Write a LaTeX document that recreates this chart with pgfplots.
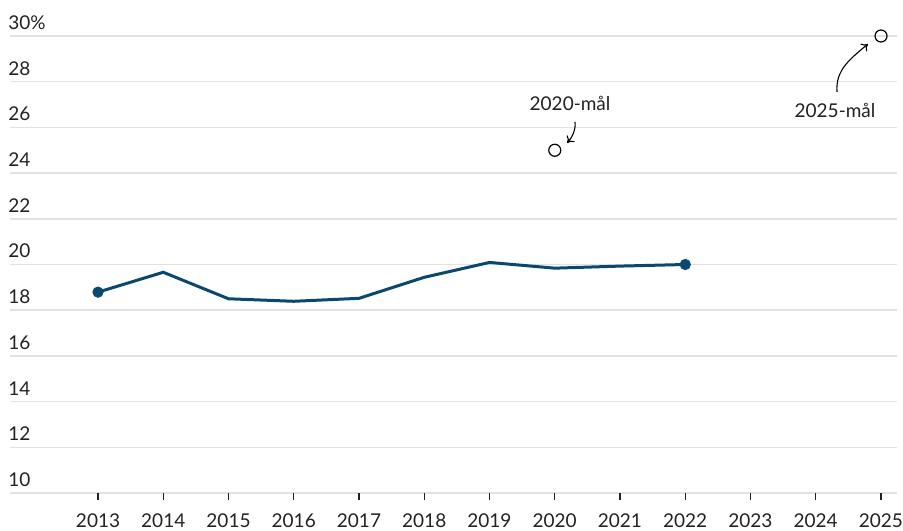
\documentclass[border=0pt]{standalone}
\usepackage{fontspec}
\setmainfont{Lato}
\usepackage{pgfplots}
\pgfplotsset{compat=1.18}
\usetikzlibrary{arrows.meta}
\definecolor{lineblue}{HTML}{0B4870}
\definecolor{gridgray}{HTML}{E2E2E2}
\definecolor{txt}{HTML}{222222}
\begin{document}
\begin{tikzpicture}
\path[use as bounding box] (0,0) rectangle (451.5pt,265pt);
\begin{axis}[
  at={(5pt,18.5pt)}, anchor=south west,
  scale only axis, width=443.5pt, height=228.5pt,
  xmin=2011.651, xmax=2025.245, ymin=10, ymax=30,
  clip=false,
  axis x line*=bottom, axis y line*=left,
  axis line style={draw=none},
  ymajorgrids, grid style={draw=gridgray, line width=0.75pt},
  xtick={2013,...,2025},
  xticklabels={2013,2014,2015,2016,2017,2018,2019,2020,2021,2022,2023,2024,2025},
  ytick={10,12,...,30},
  yticklabels={10,12,14,16,18,20,22,24,26,28,30\%},
  tick align=outside,
  major tick length=3.5pt,
  xtick style={draw=txt, line width=0.6pt},
  ytick style={draw=none},
  tick label style={font=\fontsize{9.5}{11}\selectfont, text=txt},
  yticklabel style={anchor=south west, inner sep=0pt, xshift=2.5pt, yshift=3pt},
  xticklabel style={anchor=north, inner sep=0pt, yshift=-6.5pt},
]
\addplot[lineblue, line width=1.5pt] coordinates {
  (2013,18.79) (2014,19.66) (2015,18.50) (2016,18.39) (2017,18.52)
  (2018,19.44) (2019,20.09) (2020,19.84) (2021,19.93) (2022,20.00)};
\addplot[only marks, mark=*, mark size=2.6pt, lineblue, fill=lineblue] coordinates {
  (2013,18.79) (2022,20.00)};
\addplot[only marks, mark=o, mark size=3pt, black, line width=0.6pt] coordinates {
  (2020,25) (2025,30)};
\node[font=\fontsize{9.5}{11}\selectfont, text=txt] at (axis cs:2020.234,27.07) {2020-mål};
\draw[-{To[length=3pt,width=5pt]}, line width=0.55pt, black] (axis cs:2020.31,26.24) to[out=-85,in=50] (axis cs:2020.19,25.32);
\node[font=\fontsize{9.5}{11}\selectfont, text=txt] at (axis cs:2024.295,26.76) {2025-mål};
\draw[-{To[length=3pt,width=5pt]}, line width=0.55pt, black] (axis cs:2024.326,27.55) to[out=95,in=-140] (axis cs:2024.80,29.65);
\end{axis}
\end{tikzpicture}
\end{document}
